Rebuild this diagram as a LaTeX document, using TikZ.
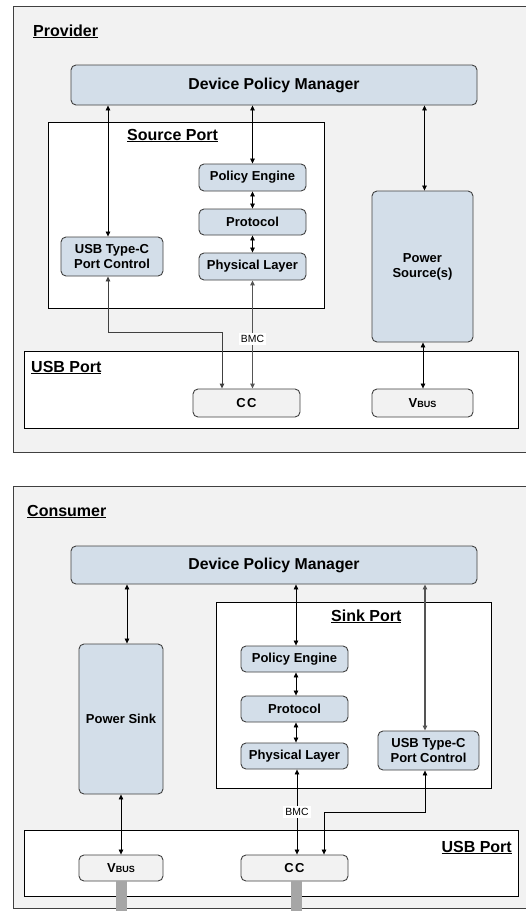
\documentclass[tikz,border=0pt]{standalone}
\usepackage{fontspec}
\setmainfont{Liberation Sans}
\usetikzlibrary{arrows.meta,calc}
\definecolor{panelbg}{HTML}{F2F2F2}
\definecolor{bluefill}{HTML}{D3DEE9}
\definecolor{edgec}{HTML}{404040}
\definecolor{bargray}{HTML}{A6A6A6}
\definecolor{linegray}{HTML}{555555}
\begin{document}
\begin{tikzpicture}[x=1pt,y=-1pt,
 bluebox/.style={draw=edgec, line width=0.9pt, fill=bluefill, rounded corners=5pt,
   font=\fontsize{13}{15}\selectfont\bfseries, align=center, inner sep=0pt},
 greybox/.style={bluebox, fill=panelbg},
 panel/.style={draw=edgec, line width=1pt, fill=panelbg},
 portbox/.style={draw=black, line width=0.9pt, fill=white},
 title/.style={font=\fontsize{16}{18}\selectfont\bfseries, anchor=base west, inner sep=0pt},
 biarr/.style={draw=black, line width=0.7pt, {Triangle[length=5pt,width=4.5pt]}-{Triangle[length=5pt,width=4.5pt]}},
 gbiarr/.style={biarr, draw=linegray, line width=1.1pt},
 bmc/.style={fill=white, font=\fontsize{10.4}{12}\selectfont, inner sep=2pt}
]
\useasboundingbox (0,0) rectangle (526,911);
\fill[white] (0,0) rectangle (526,911);

% ================= Provider =================
\draw[panel] (13,6) rectangle (540,452);
\node[title] (provlbl) at (33,36) {\underline{Provider}};
\node[bluebox, minimum width=406pt, minimum height=40pt, font=\fontsize{15.8}{18}\selectfont\bfseries] (dpm1) at (274,85) {Device Policy Manager};
\draw[portbox] (48,122) rectangle (324,308);
\node[title] (srclbl) at (127,140) {\underline{Source Port}};
\node[bluebox, minimum width=107pt, minimum height=27pt] (pe1) at (252.5,177.5) {Policy Engine};
\node[bluebox, minimum width=107pt, minimum height=26pt] (proto1) at (252.5,222) {Protocol};
\node[bluebox, minimum width=107pt, minimum height=27pt] (phy1) at (252.5,266.5) {Physical Layer};
\node[bluebox, minimum width=102pt, minimum height=39pt] (tc1) at (112,256.5) {USB Type-C\\Port Control};
\node[bluebox, minimum width=101pt, minimum height=151pt] (ps1) at (422.5,266.5) {Power\\Source(s)};
\draw[portbox] (24,351) rectangle (518,428);
\node[title] (usb1lbl) at (31,372) {\underline{USB Port}};
\node[greybox, minimum width=107pt, minimum height=28pt] (cc1) at (246.5,403) {C\hspace{1.5pt}C};
\node[greybox, minimum width=101pt, minimum height=28pt] (vbus1) at (422.5,403) {V{\fontsize{9}{10}\selectfont BUS}};

\draw[biarr] ([xshift=-4pt]tc1.north |- dpm1.south) -- ([xshift=-4pt]tc1.north);
\draw[biarr] (pe1.north |- dpm1.south) -- (pe1.north);
\draw[biarr] (pe1.south) -- (proto1.north);
\draw[biarr] (proto1.south) -- (phy1.north);
\draw[biarr] ([xshift=2pt]ps1.north |- dpm1.south) -- ([xshift=2pt]ps1.north);
\coordinate (bend1) at (0,332);
\draw[biarr, draw=edgec, line width=0.9pt] ([xshift=-4pt]tc1.south) |- ([xshift=-24.5pt]cc1.north |- bend1) -- ([xshift=-24.5pt]cc1.north);
\draw[gbiarr] (phy1.south) -- (phy1.south |- cc1.north) node[bmc, pos=0.54] (bmc1) {BMC};
\draw[biarr] ([xshift=0.5pt]ps1.south) -- ([xshift=0.5pt]vbus1.north);

% ================= Consumer =================
\draw[panel] (13,486) rectangle (540,908);
\node[title] (conslbl) at (27,516) {\underline{Consumer}};
\node[bluebox, minimum width=406pt, minimum height=38pt, font=\fontsize{15.8}{18}\selectfont\bfseries] (dpm2) at (274,565) {Device Policy Manager};
\draw[portbox] (216,602) rectangle (491,788);
\node[title] (sinklbl) at (331,621) {\underline{Sink Port}};
\node[bluebox, minimum width=107pt, minimum height=26pt] (pe2) at (294.5,659) {Policy Engine};
\node[bluebox, minimum width=107pt, minimum height=26pt] (proto2) at (294.5,709) {Protocol};
\node[bluebox, minimum width=107pt, minimum height=26pt] (phy2) at (294.5,756) {Physical Layer};
\node[bluebox, minimum width=101pt, minimum height=39pt] (tc2) at (428.5,750.5) {USB Type-C\\Port Control};
\node[bluebox, minimum width=84pt, minimum height=150pt] (psink) at (121,719) {Power Sink};
\draw[portbox] (24,830) rectangle (518,896);
\node[title, anchor=base east] (usb2lbl) at (512,852) {\underline{USB Port}};
\node[greybox, minimum width=84pt, minimum height=26pt] (vbus2) at (121,868) {V{\fontsize{9}{10}\selectfont BUS}};
\node[greybox, minimum width=107pt, minimum height=26pt] (cc2) at (294.5,868) {C\hspace{1.5pt}C};
\fill[bargray] ([xshift=-5.5pt]vbus2.south) rectangle ([xshift=5.5pt,yshift=-40pt]vbus2.south);
\fill[bargray] ([xshift=-4pt]cc2.south) rectangle ([xshift=7pt,yshift=-40pt]cc2.south);

\draw[biarr] ([xshift=6pt]psink.north |- dpm2.south) -- ([xshift=6pt]psink.north);
\draw[biarr] ([xshift=1.5pt]pe2.north |- dpm2.south) -- ([xshift=1.5pt]pe2.north);
\draw[biarr] ([xshift=1.5pt]pe2.south) -- ([xshift=1.5pt]proto2.north);
\draw[biarr] ([xshift=1.5pt]proto2.south) -- ([xshift=1.5pt]phy2.north);
\draw[gbiarr] ([xshift=-3.5pt]tc2.north |- dpm2.south) -- ([xshift=-3.5pt]tc2.north);
\draw[biarr] ([xshift=2.5pt]phy2.south) -- ([xshift=2.5pt]cc2.north) node[bmc, pos=0.5] (bmc2) {BMC};
\coordinate (bend2) at (0,812);
\draw[biarr] ([xshift=-3.5pt]tc2.south) |- ([xshift=29.5pt]cc2.north |- bend2) -- ([xshift=29.5pt]cc2.north);
\draw[biarr] (psink.south) -- (vbus2.north);
\end{tikzpicture}
\end{document}
